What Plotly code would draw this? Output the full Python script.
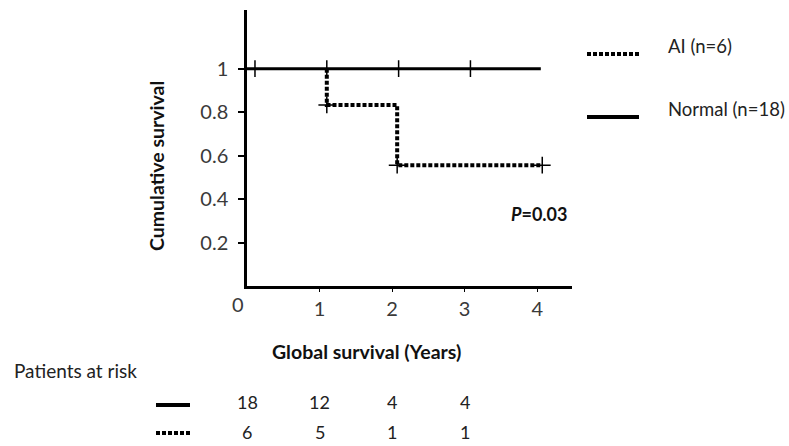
import plotly.graph_objects as go

# ---- data ----
normal_x = [0, 4.05]
normal_y = [1, 1]
normal_censor_x = [0.11, 1.10, 2.09, 3.08]
normal_censor_y = [1, 1, 1, 1]

ai_x = [1.10, 1.10, 2.07, 4.07]
ai_y = [1.0, 0.833, 0.556, 0.556]
ai_censor_x = [1.10, 2.07, 4.07]
ai_censor_y = [0.833, 0.556, 0.556]

x_ticks = [1, 2, 3, 4]
y_ticks = [0.2, 0.4, 0.6, 0.8, 1]
y_tick_labels = ["0.2", "0.4", "0.6", "0.8", "1"]

risk_times = [0, 1, 2, 3]
risk_normal = [18, 12, 4, 4]
risk_ai = [6, 5, 1, 1]

legend_labels = ["AI (n=6)", "Normal (n=18)"]
p_text = "<b><i>P</i>=0.03</b>"

W, H = 789, 446
L, R, T, B = 247, 572, 10, 286
FONT = "Lato"
TICKC = "#3a3a3a"
DOT = "4px,2px"


def px(xp):
    return (xp - L) / (R - L)


def py(yp):
    return (B - yp) / (B - T)


fig = go.Figure()
fig.add_trace(go.Scatter(x=normal_x, y=normal_y, mode="lines",
                         line=dict(color="black", width=3), showlegend=False,
                         cliponaxis=False))
fig.add_trace(go.Scatter(x=ai_x, y=ai_y, mode="lines", line_shape="hv",
                         line=dict(color="black", width=4, dash=DOT),
                         showlegend=False, cliponaxis=False))
fig.add_trace(go.Scatter(x=normal_censor_x, y=normal_censor_y, mode="markers",
                         marker=dict(symbol="cross-thin", size=12,
                                     line=dict(color="black", width=1.5)),
                         showlegend=False, cliponaxis=False))
fig.add_trace(go.Scatter(x=ai_censor_x, y=ai_censor_y, mode="markers",
                         marker=dict(symbol="cross-thin", size=12,
                                     line=dict(color="black", width=1.5)),
                         showlegend=False, cliponaxis=False))

fig.update_xaxes(range=[0, 4.48], tickvals=x_ticks, ticks="outside", ticklen=3,
                 tickcolor="black", showline=True, linecolor="black", linewidth=2.5,
                 showgrid=False, zeroline=False,
                 tickfont=dict(family=FONT, size=20, color=TICKC))
fig.update_yaxes(range=[0, 1.27], tickvals=y_ticks, ticktext=y_tick_labels,
                 ticks="outside", ticklen=6, tickcolor="black", tickwidth=2,
                 showline=True, linecolor="black", linewidth=2.5,
                 showgrid=False, zeroline=False, ticklabelstandoff=6,
                 tickfont=dict(family=FONT, size=20, color=TICKC))


def note(xp, yp, text, size=16, color="#222", xanchor="center", **kw):
    return dict(x=px(xp), y=py(yp), xref="paper", yref="paper", text=text,
                showarrow=False, xanchor=xanchor, yanchor="middle",
                font=dict(family=FONT, size=size, color=color), **kw)


ann = []
ann.append(note(238, 304, "0", size=20, color=TICKC))
ann.append(note(366, 351, "<b>Global survival (Years)</b>", size=19.5, color="#111"))
ann.append(note(156, 166, "<b>Cumulative survival</b>", size=19.5, color="#111",
                textangle=-90))
ann.append(note(539, 214, p_text, size=18, color="#111"))
ann.append(note(666, 46, legend_labels[0], size=18.5, xanchor="left"))
ann.append(note(666, 109, legend_labels[1], size=18.5, xanchor="left"))
ann.append(note(12, 370, "Patients at risk", size=19, xanchor="left"))
for t, n in zip(risk_times, risk_normal):
    ann.append(dict(x=t, y=py(402), xref="x", yref="paper", text=str(n),
                    showarrow=False, yanchor="middle",
                    font=dict(family=FONT, size=18, color="#222")))
for t, n in zip(risk_times, risk_ai):
    ann.append(dict(x=t, y=py(432), xref="x", yref="paper", text=str(n),
                    showarrow=False, yanchor="middle",
                    font=dict(family=FONT, size=18, color="#222")))

shapes = [
    dict(type="line", xref="paper", yref="paper", x0=px(587), x1=px(639),
         y0=py(54), y1=py(54), line=dict(color="black", width=4, dash=DOT)),
    dict(type="line", xref="paper", yref="paper", x0=px(587), x1=px(639),
         y0=py(117), y1=py(117), line=dict(color="black", width=4)),
    dict(type="line", xref="paper", yref="paper", x0=px(156), x1=px(190),
         y0=py(405), y1=py(405), line=dict(color="black", width=4)),
    dict(type="line", xref="paper", yref="paper", x0=px(156), x1=px(190),
         y0=py(433), y1=py(433), line=dict(color="black", width=4, dash=DOT)),
]

fig.update_layout(width=W, height=H, margin=dict(l=L, r=W - R, t=T, b=H - B),
                  plot_bgcolor="white", paper_bgcolor="white",
                  annotations=ann, shapes=shapes, showlegend=False)
fig.write_html("out.html")
